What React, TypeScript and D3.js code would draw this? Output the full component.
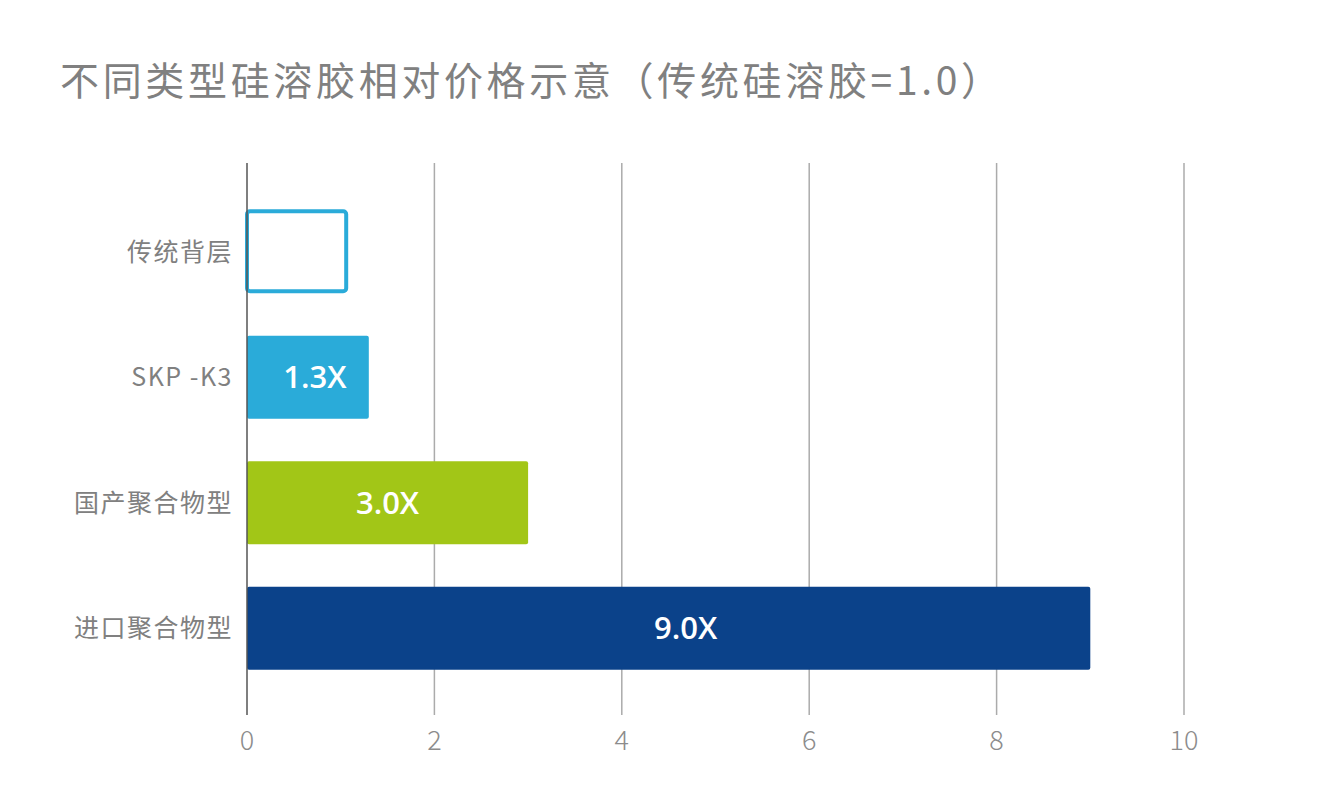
import { useEffect, useRef } from 'react'
import * as d3 from 'd3'

const categories = ['传统背层', 'SKP -K3', '国产聚合物型', '进口聚合物型']
const values = [1.08, 1.3, 3.0, 9.0]
const barLabels = ['', '1.3X', '3.0X', '9.0X']
const barColors = ['#2aabd9', '#2aabd9', '#a2c617', '#0b428a']
const outlined = [true, false, false, false]
const labelShift = [0, 7, 0, 17]
const xTicks = [0, 2, 4, 6, 8, 10]

const title = '不同类型硅溶胶相对价格示意（传统硅溶胶=1.0）'

export default function App() {
  const svgRef = useRef<SVGSVGElement>(null)

  useEffect(() => {
    if (!svgRef.current) return
    const svg = d3.select(svgRef.current)
    svg.selectAll('*').remove()

    const width = 1319
    const height = 805
    const cjk = '"Noto Sans CJK SC", sans-serif'
    const latin = '"Open Sans", "Noto Sans CJK SC", sans-serif'

    svg.attr('width', width).attr('height', height)
    svg.append('rect').attr('width', width).attr('height', height).attr('fill', '#fff')

    const x = d3.scaleLinear().domain([0, 10]).range([247, 1184])
    const y = d3.scaleBand().domain(categories).range([189, 691]).paddingInner(0.34).paddingOuter(0.17)

    const gridTop = 163
    const gridBottom = 715

    // Title
    svg.append('text')
      .attr('x', 60)
      .attr('y', 95)
      .attr('textLength', 940)
      .attr('lengthAdjust', 'spacing')
      .style('font-family', cjk)
      .style('font-size', '39px')
      .style('fill', '#808080')
      .text(title)

    // Grid lines
    svg.append('g')
      .selectAll('line')
      .data(xTicks.slice(1))
      .join('line')
      .attr('x1', d => x(d))
      .attr('x2', d => x(d))
      .attr('y1', gridTop)
      .attr('y2', gridBottom)
      .attr('stroke', '#ababab')
      .attr('stroke-width', 1.5)

    // Bars
    categories.forEach((c, i) => {
      const y0 = y(c)!
      const bh = y.bandwidth()
      if (outlined[i]) {
        svg.append('rect')
          .attr('x', x(0))
          .attr('y', y0 + 1)
          .attr('width', x(values[i]) - x(0) - 2)
          .attr('height', bh - 3)
          .attr('rx', 3)
          .attr('fill', '#fff')
          .attr('stroke', barColors[i])
          .attr('stroke-width', 4)
      } else {
        svg.append('rect')
          .attr('x', x(0))
          .attr('y', y0)
          .attr('width', x(values[i]) - x(0))
          .attr('height', bh)
          .attr('rx', 2)
          .attr('fill', barColors[i])
      }

      if (barLabels[i]) {
        svg.append('text')
          .attr('x', (x(0) + x(values[i])) / 2 + labelShift[i])
          .attr('y', y0 + bh / 2)
          .attr('dy', '0.36em')
          .attr('text-anchor', 'middle')
          .style('font-family', latin)
          .style('font-size', '31px')
          .style('font-weight', 600)
          .style('fill', '#fff')
          .text(barLabels[i])
      }

      svg.append('text')
        .attr('x', 233)
        .attr('y', y0 + bh / 2)
        .attr('dy', '0.36em')
        .attr('text-anchor', 'end')
        .style('font-family', cjk)
        .style('font-size', '25px')
        .style('letter-spacing', '1.5px')
        .style('fill', '#808080')
        .text(c)
    })

    // Axis line at zero
    svg.append('line')
      .attr('x1', x(0))
      .attr('x2', x(0))
      .attr('y1', gridTop)
      .attr('y2', gridBottom)
      .attr('stroke', '#555')
      .attr('stroke-width', 1.5)

    // Tick labels
    svg.append('g')
      .selectAll('text')
      .data(xTicks)
      .join('text')
      .attr('x', d => x(d))
      .attr('y', 750)
      .attr('text-anchor', 'middle')
      .style('font-family', cjk)
      .style('font-size', '27px')
      .style('font-weight', 300)
      .style('fill', '#8c8c8c')
      .text(d => String(d))
  }, [])

  return <svg ref={svgRef} style={{ position: 'absolute', left: 0, top: 0 }} />
}
